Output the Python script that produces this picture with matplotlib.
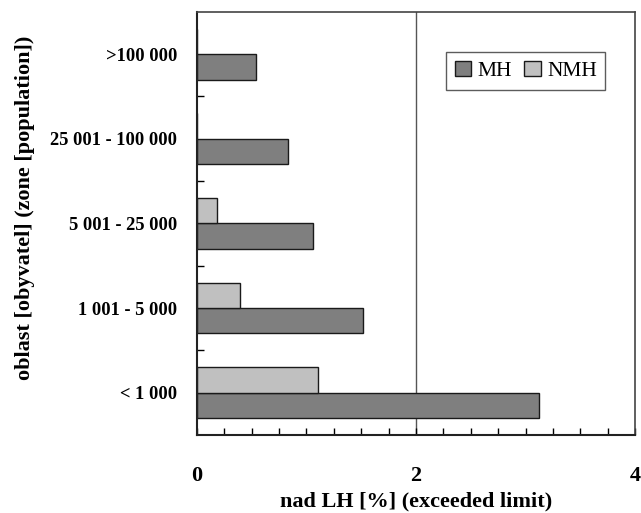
import matplotlib
matplotlib.use("Agg")
import matplotlib.pyplot as plt
import numpy as np

categories = ['< 1 000', '1 001 - 5 000', '5 001 - 25 000', '25 001 - 100 000', '>100 000']
mh = [3.12, 1.52, 1.06, 0.83, 0.54]
nmh = [1.11, 0.39, 0.18, 0.0, 0.0]
limit = 2

plt.rcParams['font.family'] = ['Liberation Serif', 'DejaVu Serif']

fig = plt.figure(figsize=(6.41, 5.13), dpi=100)
ax = fig.add_axes([0.307, 0.152, 0.684, 0.825])

y = np.arange(len(categories))
h = 0.3
ax.barh(y - h / 2, mh, height=h, color='#7f7f7f', edgecolor='#1a1a1a', linewidth=1.0, label='MH')
ax.barh(y + h / 2, nmh, height=h, color='#c0c0c0', edgecolor='#1a1a1a', linewidth=1.0, label='NMH')

ax.axvline(limit, color='#555555', linewidth=1.0, zorder=0)

ax.set_xlim(0, 4)
ax.set_ylim(-0.5, len(categories) - 0.5)

ax.set_xticks([0, 2, 4])
ax.set_xticks(np.arange(0, 4.01, 0.25), minor=True)
ax.tick_params(axis='x', which='both', direction='in', length=5, width=1, pad=22,
               labelsize=16)
for lbl in ax.get_xticklabels():
    lbl.set_fontweight('bold')

ax.set_yticks(y)
ax.set_yticklabels(categories, fontsize=13.3, fontweight='bold')
ax.set_yticks(np.arange(0.5, len(categories) - 1, 1.0), minor=True)
ax.tick_params(axis='y', which='major', length=0, pad=14)
ax.tick_params(axis='y', which='minor', direction='in', length=5, width=1)

for side in ['left', 'bottom']:
    ax.spines[side].set_linewidth(1.5)
    ax.spines[side].set_color('#222222')
for side in ['top', 'right']:
    ax.spines[side].set_linewidth(1.2)
    ax.spines[side].set_color('#444444')

ax.set_xlabel('nad LH [%] (exceeded limit)', fontsize=16, fontweight='bold', labelpad=4)
ax.set_ylabel('oblast [obyvatel] (zone [population])', fontsize=16, fontweight='bold')
ax.yaxis.set_label_coords(-0.37, 0.537)

leg = ax.legend(loc='upper right', bbox_to_anchor=(0.932, 0.905), ncol=2, fontsize=15.5,
                frameon=True, fancybox=False, edgecolor='#333333', handlelength=0.75,
                handleheight=0.75, handletextpad=0.3, columnspacing=0.6, borderpad=0.4,
                borderaxespad=0)
leg.get_frame().set_linewidth(1.0)

plt.savefig('out.png', dpi=100)
